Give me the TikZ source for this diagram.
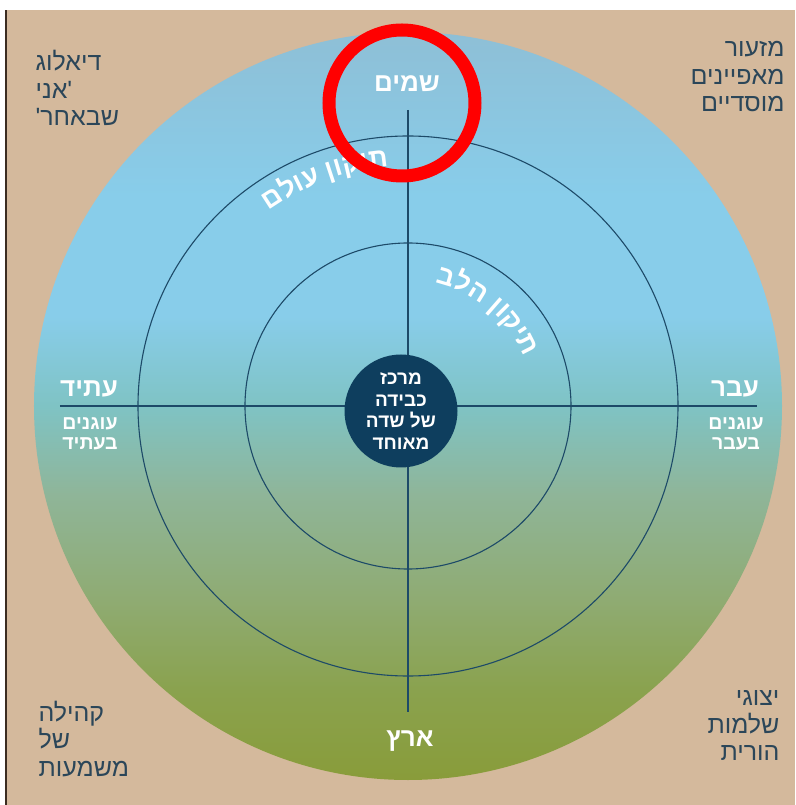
\documentclass[tikz,border=0pt]{standalone}
\usepackage{fontspec}
\setmainfont{Liberation Sans}
\newfontfamily\heb[Script=Hebrew]{Liberation Sans}
\TeXXeTstate=1
\usetikzlibrary{decorations.text}

\definecolor{sand}{HTML}{D4B99C}
\definecolor{rim}{HTML}{3B2C20}
\definecolor{ink}{HTML}{1D4A68}
\definecolor{core}{HTML}{0E3E5E}
\definecolor{slate}{HTML}{2B4659}
\definecolor{skytop}{HTML}{8EBFD6}
\definecolor{skymid}{HTML}{88CDEA}
\definecolor{horizon}{HTML}{7FC3C4}
\definecolor{sage}{HTML}{8FB598}
\definecolor{moss}{HTML}{8FAB72}
\definecolor{earthb}{HTML}{8AA24E}
\definecolor{earth}{HTML}{899C3A}
\pgfdeclareverticalshading{skyearth}{100bp}{color(0bp)=(earth); color(25bp)=(earth); color(31bp)=(earthb); color(37bp)=(moss); color(44bp)=(sage); color(50bp)=(horizon); color(56bp)=(skymid); color(64bp)=(skymid); color(75bp)=(skytop); color(100bp)=(skytop)}

\begin{document}
\begin{tikzpicture}[x=1pt, y=1pt,
    axis/.style={draw=ink, line width=1.2pt},
    ring/.style={draw=ink, line width=1.1pt},
    lbl/.style={text=white, font=\heb\bfseries\fontsize{26}{26}\selectfont},
    sublbl/.style={text=white, font=\heb\bfseries\fontsize{19.5}{20}\selectfont, align=center},
    corner/.style={text=slate, font=\heb\fontsize{25}{27.5}\selectfont},
    arclbl/.style={decorate, decoration={text along path, text align=center, text color=white,
        text={|\heb\bfseries\fontsize{27}{27}\selectfont|#1}}}]
    \useasboundingbox (-408,-399) rectangle (387,406);
    \fill[sand] (-402,-399) rectangle (387,396);
    \draw[rim, line width=1.5pt] (-402,-399) -- (-402,396);
    \coordinate (O) at (0,0);
    \shade[shading=skyearth] (O) circle (374pt);
    \draw[ring] (O) circle (270pt);
    \draw[ring] (O) circle (163pt);
    % axes
    \coordinate (N) at (0,296);
    \coordinate (S) at (0,-306);
    \coordinate (W) at (-348,0);
    \coordinate (E) at (349,0);
    \draw[axis] (W) -- (E);
    \draw[axis] (N) -- (S);
    \node[circle, fill=core, minimum size=113pt, inner sep=0pt, align=center, text=white,
        font=\heb\bfseries\fontsize{19}{21.5}\selectfont] (core) at (-7,-5)
        {\beginR מרכז\endR\\\beginR כבידה\endR\\\beginR של שדה\endR\\\beginR מאוחד\endR};
    % curved labels (glyphs in visual order)
    \path[arclbl={םלוע ןוקית}] (150:240pt) arc[start angle=150, end angle=70, radius=240pt];
    \path[arclbl={בלה ןוקית}] (94:126pt) arc[start angle=94, end angle=6, radius=126pt];
    \node[lbl] (sky) at (-1,322) {\beginR שמים\endR};
    \node[lbl] (land) at (2,-335) {\beginR ארץ\endR};
    \node[lbl] (future) at (-319,17) {\beginR עתיד\endR};
    \node[sublbl] (futuresub) at (-318,-28) {\beginR עוגנים\endR\\\beginR בעתיד\endR};
    \node[lbl] (past) at (327,17) {\beginR עבר\endR};
    \node[sublbl] (pastsub) at (328,-28) {\beginR עוגנים\endR\\\beginR בעבר\endR};
    % corners
    \node[corner, align=left, anchor=west] (dialog) at (-376,318)
        {\beginR דיאלוג\endR\\\beginR 'אני\endR\\\beginR שבאחר'\endR};
    \node[corner, align=right, anchor=east] (minimal) at (380,329)
        {\beginR מזעור\endR\\\beginR מאפיינים\endR\\\beginR מוסדיים\endR};
    \node[corner, align=left, anchor=west] (community) at (-373,-333)
        {\beginR קהילה\endR\\\beginR של\endR\\\beginR משמעות\endR};
    \node[corner, align=right, anchor=east] (parents) at (375,-320)
        {\beginR יצוגי\endR\\\beginR שלמות\endR\\\beginR הורית\endR};
    \draw[red, line width=13pt] (-6,303) circle (73pt);
\end{tikzpicture}
\end{document}
